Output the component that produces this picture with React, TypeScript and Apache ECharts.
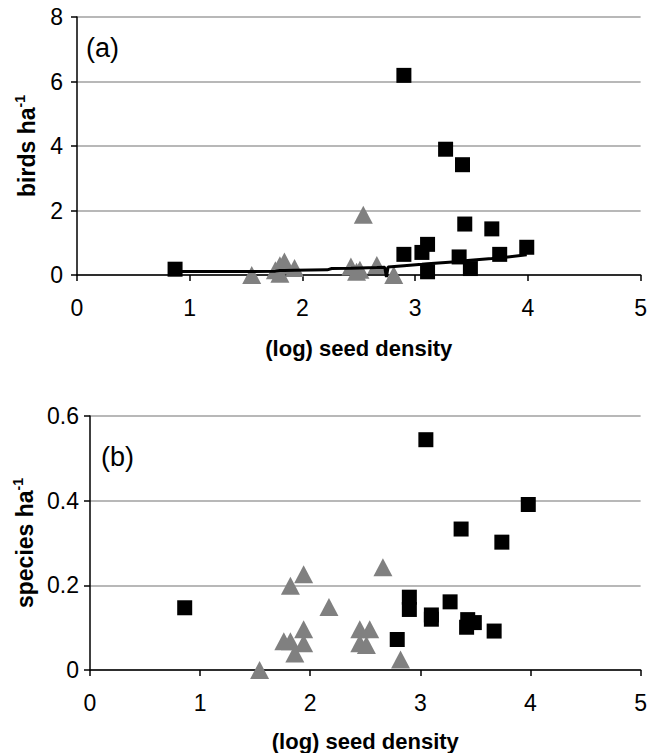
import React, { useEffect, useRef } from "react";
import * as echarts from "echarts";

// Panel (a): bird density against (log) seed density
const birdsSquares: number[][] = [
  [0.87, 0.18], [2.9, 6.19], [3.27, 3.9], [3.42, 3.42], [3.44, 1.58], [3.68, 1.43],
  [2.9, 0.64], [3.06, 0.7], [3.11, 0.95], [3.11, 0.1], [3.39, 0.56], [3.49, 0.2],
  [3.75, 0.64], [3.99, 0.86],
];
const birdsTriangles: number[][] = [
  [1.55, 0.0], [1.76, 0.15], [1.8, 0.3], [1.8, 0.04], [1.84, 0.42], [1.93, 0.22],
  [2.43, 0.26], [2.48, 0.1], [2.51, 0.16], [2.54, 1.87], [2.66, 0.31], [2.81, 0.0],
];
// fitted values, ordered by seed density
const fitX = [0.87, 1.55, 1.76, 1.8, 1.84, 1.93, 2.22, 2.26, 2.43, 2.51, 2.66, 2.73, 2.745, 2.76, 2.9, 3.06, 3.11, 3.27, 3.39, 3.44, 3.49, 3.68, 3.75, 3.99];
const fitY = [0.11, 0.11, 0.12, 0.14, 0.14, 0.15, 0.16, 0.2, 0.21, 0.22, 0.23, 0.24, -0.06, 0.25, 0.29, 0.33, 0.35, 0.39, 0.42, 0.44, 0.46, 0.51, 0.53, 0.63];

// Panel (b): species density against (log) seed density
const speciesSquares: number[][] = [
  [0.86, 0.147], [3.05, 0.544], [3.37, 0.333], [3.74, 0.302], [3.98, 0.391],
  [2.9, 0.172], [2.9, 0.143], [3.1, 0.13], [3.1, 0.12], [3.27, 0.161],
  [3.43, 0.119], [3.49, 0.112], [3.42, 0.101], [3.67, 0.092], [2.79, 0.072],
];
const speciesTriangles: number[][] = [
  [1.54, 0.0], [1.82, 0.199], [1.94, 0.226], [2.17, 0.149], [2.66, 0.243],
  [1.76, 0.068], [1.82, 0.068], [1.94, 0.096], [1.94, 0.063], [1.86, 0.039],
  [2.45, 0.096], [2.54, 0.096], [2.45, 0.063], [2.51, 0.059], [2.82, 0.025],
];

const xTitle = "(log) seed density";
const panelLabels = ["(a)", "(b)"];

const FONT = "'Liberation Sans', Arial, sans-serif";
const GREY = "#808080";

export default function App() {
  const ref = useRef<HTMLDivElement>(null);

  useEffect(() => {
    document.body.style.margin = "0";
    if (!ref.current) return;
    const chart = echarts.init(ref.current, undefined, { renderer: "svg" });

    const xAxisBase = (gridIndex: number, nameGap: number, labelMargin: number) => ({
      type: "value" as const,
      gridIndex,
      min: 0,
      max: 5,
      interval: 1,
      name: xTitle,
      nameLocation: "middle" as const,
      nameGap,
      nameTextStyle: { fontFamily: FONT, fontSize: 22, fontWeight: "bold", color: "#000" },
      axisLine: { show: true, onZero: false, lineStyle: { color: "#000", width: 1.5 } },
      axisTick: { show: true, inside: false, length: 6, lineStyle: { color: "#000", width: 1.5 } },
      axisLabel: { fontFamily: FONT, fontSize: 23, color: "#000", margin: labelMargin },
      splitLine: { show: false },
    });

    const yAxisBase = (
      gridIndex: number, max: number, interval: number, name: string, nameGap: number, labelMargin: number,
    ) => ({
      type: "value" as const,
      gridIndex,
      min: 0,
      max,
      interval,
      name,
      nameLocation: "middle" as const,
      nameRotate: 90,
      nameGap,
      nameTextStyle: {
        rich: {
          b: { fontFamily: FONT, fontSize: 23, fontWeight: "bold", color: "#000", lineHeight: 27, verticalAlign: "middle" },
          s: { fontFamily: FONT, fontSize: 14, fontWeight: "bold", color: "#000", lineHeight: 14, verticalAlign: "top" },
        },
      },
      axisLine: { show: true, onZero: false, lineStyle: { color: "#000", width: 1.5 } },
      axisTick: { show: true, inside: false, length: 6, lineStyle: { color: "#000", width: 1.5 } },
      axisLabel: { fontFamily: FONT, fontSize: 23, color: "#000", margin: labelMargin },
      splitLine: { show: true, lineStyle: { color: "#a0a0a0", width: 1.5 } },
    });

    chart.setOption({
      animation: false,
      backgroundColor: "#fff",
      grid: [
        { left: 77, top: 17, width: 566, height: 258 },
        { left: 90, top: 416, width: 551, height: 255 },
      ],
      xAxis: [xAxisBase(0, 62, 21), xAxisBase(1, 60, 21)],
      yAxis: [
        yAxisBase(0, 8, 2, "{b|birds ha}{s|-1}", 37, 14),
        yAxisBase(1, 0.6, 0.2, "{b|species ha}{s|-1}", 51, 11),
      ],
      graphic: [
        { type: "text", left: 86, top: 34, style: { text: panelLabels[0], font: `27px ${FONT}`, fill: "#000" } },
        { type: "text", left: 101, top: 443, style: { text: panelLabels[1], font: `27px ${FONT}`, fill: "#000" } },
      ],
      series: [
        {
          type: "scatter", xAxisIndex: 0, yAxisIndex: 0, data: birdsTriangles,
          symbol: "triangle", symbolSize: [19, 18], itemStyle: { color: GREY, opacity: 1 }, z: 2,
        },
        {
          type: "line", xAxisIndex: 0, yAxisIndex: 0,
          data: fitX.map((x, i) => [x, fitY[i]]),
          showSymbol: false, symbol: "none", clip: false,
          lineStyle: { color: "#000", width: 3 }, z: 3,
        },
        {
          type: "scatter", xAxisIndex: 0, yAxisIndex: 0, data: birdsSquares,
          symbol: "rect", symbolSize: 15, itemStyle: { color: "#000", opacity: 1 }, z: 4,
        },
        {
          type: "scatter", xAxisIndex: 1, yAxisIndex: 1, data: speciesTriangles,
          symbol: "triangle", symbolSize: [19, 18], itemStyle: { color: GREY, opacity: 1 }, z: 2,
        },
        {
          type: "scatter", xAxisIndex: 1, yAxisIndex: 1, data: speciesSquares,
          symbol: "rect", symbolSize: 15, itemStyle: { color: "#000", opacity: 1 }, z: 4,
        },
      ],
    });

    return () => chart.dispose();
  }, []);

  return <div ref={ref} style={{ width: 650, height: 753 }} />;
}
